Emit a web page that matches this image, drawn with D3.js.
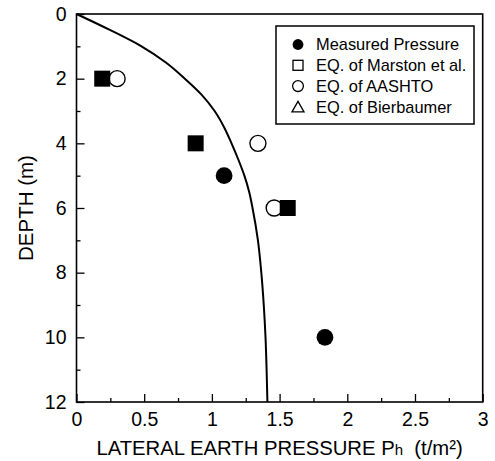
<!DOCTYPE html>
<html>
<head>
<meta charset="utf-8">
<script src="https://cdn.jsdelivr.net/npm/d3@7"></script>
<style>
  html, body { margin: 0; padding: 0; background: #fff; }
  svg { display: block; }
  text { font-family: "Liberation Sans", Arial, Helvetica, sans-serif; fill: #000; }
</style>
</head>
<body>
<svg id="chart" width="495" height="461"></svg>
<script>
// ---- data ----
const measuredDepth = [5, 10];
const measuredPressure = [1.09, 1.835];

const marstonDepth = [2, 4, 6];
const marstonPressure = [0.19, 0.88, 1.56];

const aashtoDepth = [2, 4, 6];
const aashtoPressure = [0.30, 1.34, 1.46];

// Bierbaumer curve
const bierbaumerDepth    = [0, 0.5, 1, 1.5, 2, 2.5, 3, 3.5, 4, 4.5, 5, 5.5, 6, 7, 8, 9, 10, 11, 12];
const bierbaumerPressure = [0, 0.25, 0.48, 0.66, 0.80, 0.925, 1.02, 1.09, 1.145, 1.195, 1.24, 1.275, 1.30, 1.34, 1.365, 1.383, 1.396, 1.404, 1.41];

const xMajorTicks = [0, 0.5, 1, 1.5, 2, 2.5, 3];
const xMinorTicks = [0.25, 0.75, 1.25, 1.75, 2.25, 2.75];
const yMajorTicks = [0, 2, 4, 6, 8, 10, 12];
const yMinorTicks = [1, 3, 5, 7, 9, 11];

const legendLabels = ["Measured Pressure", "EQ. of Marston et al.", "EQ. of AASHTO", "EQ. of Bierbaumer"];
const legendSymbols = ["filledCircle", "openSquare", "openCircle", "openTriangle"];

const xTitle = "LATERAL EARTH PRESSURE ";
const yTitle = "DEPTH (m)";

// ---- layout ----
const svg = d3.select("#chart");
const pLeft = 76.5, pRight = 482.7, pTop = 14, pBottom = 402;
const x = d3.scaleLinear().domain([0, 3]).range([pLeft, pRight]);
const y = d3.scaleLinear().domain([0, 12]).range([pTop, pBottom]);
const fontSize = 19.5;

// axes (ticks pointing inward)
const xAxisMajor = d3.axisBottom(x).tickValues(xMajorTicks).tickSize(-8).tickPadding(10)
  .tickFormat(d => d3.format("")(d));
const xAxisMinor = d3.axisBottom(x).tickValues(xMinorTicks).tickSize(-4).tickFormat("");
const yAxisMajor = d3.axisLeft(y).tickValues(yMajorTicks).tickSize(-8).tickPadding(10)
  .tickFormat(d => d3.format("")(d));
const yAxisMinor = d3.axisLeft(y).tickValues(yMinorTicks).tickSize(-4).tickFormat("");

function styleAxis(g) {
  g.select(".domain").remove();
  g.selectAll(".tick line").attr("stroke", "#000").attr("stroke-width", 1.3);
  g.selectAll(".tick text").style("font-size", fontSize + "px")
    .style("font-family", '"Liberation Sans", Arial, sans-serif').attr("fill", "#000");
}

svg.append("g").attr("transform", `translate(0,${pBottom})`).call(xAxisMajor).call(styleAxis);
svg.append("g").attr("transform", `translate(0,${pBottom})`).call(xAxisMinor).call(styleAxis);
svg.append("g").attr("transform", `translate(${pLeft},0)`).call(yAxisMajor).call(styleAxis);
svg.append("g").attr("transform", `translate(${pLeft},0)`).call(yAxisMinor).call(styleAxis);

// frame
svg.append("rect")
  .attr("x", pLeft).attr("y", pTop)
  .attr("width", pRight - pLeft).attr("height", pBottom - pTop)
  .attr("fill", "none").attr("stroke", "#000").attr("stroke-width", 1.6);

// Bierbaumer curve
const curvePts = bierbaumerDepth.map((d, i) => [bierbaumerPressure[i], d]);
svg.append("path")
  .datum(curvePts)
  .attr("d", d3.line().x(d => x(d[0])).y(d => y(d[1])).curve(d3.curveMonotoneY))
  .attr("fill", "none").attr("stroke", "#000").attr("stroke-width", 2);

// AASHTO open circles
svg.append("g").selectAll("circle")
  .data(aashtoDepth.map((d, i) => [aashtoPressure[i], d]))
  .join("circle")
  .attr("cx", d => x(d[0])).attr("cy", d => y(d[1])).attr("r", 8)
  .attr("fill", "#fff").attr("stroke", "#000").attr("stroke-width", 1.4);

// Marston squares (drawn filled, as in the figure)
const sq = 16;
svg.append("g").selectAll("rect")
  .data(marstonDepth.map((d, i) => [marstonPressure[i], d]))
  .join("rect")
  .attr("x", d => x(d[0]) - sq / 2).attr("y", d => y(d[1]) - sq / 2)
  .attr("width", sq).attr("height", sq)
  .attr("fill", "#000");

// Measured filled circles
svg.append("g").selectAll("circle")
  .data(measuredDepth.map((d, i) => [measuredPressure[i], d]))
  .join("circle")
  .attr("cx", d => x(d[0])).attr("cy", d => y(d[1])).attr("r", 8.4)
  .attr("fill", "#000");

// legend
const lg = svg.append("g");
lg.append("rect").attr("x", 276).attr("y", 26).attr("width", 198).attr("height", 98)
  .attr("fill", "#fff").attr("stroke", "#000").attr("stroke-width", 1.5);
const rowY = i => 44.5 + i * 20.8;
const mx = 298;
legendLabels.forEach((lab, i) => {
  const cy = rowY(i);
  const s = legendSymbols[i];
  if (s === "filledCircle") {
    lg.append("circle").attr("cx", mx).attr("cy", cy).attr("r", 5.4).attr("fill", "#000");
  } else if (s === "openSquare") {
    lg.append("rect").attr("x", mx - 5).attr("y", cy - 5).attr("width", 10).attr("height", 10)
      .attr("fill", "none").attr("stroke", "#000").attr("stroke-width", 1.3);
  } else if (s === "openCircle") {
    lg.append("circle").attr("cx", mx).attr("cy", cy).attr("r", 5.4)
      .attr("fill", "none").attr("stroke", "#000").attr("stroke-width", 1.3);
  } else {
    lg.append("path").attr("d", `M${mx - 6},${cy + 5}L${mx},${cy - 5.5}L${mx + 6},${cy + 5}Z`)
      .attr("fill", "none").attr("stroke", "#000").attr("stroke-width", 1.3);
  }
  lg.append("text").attr("x", 316).attr("y", cy).attr("dy", "0.36em")
    .style("font-size", "16.4px").text(lab);
});

// axis titles
const xt = svg.append("text")
  .attr("x", (pLeft + pRight) / 2).attr("y", 455)
  .attr("text-anchor", "middle")
  .style("font-size", "20.3px")
  .style("white-space", "pre");
xt.append("tspan").text(xTitle);
xt.append("tspan").text("P");
xt.append("tspan").style("font-size", "15px").text("h");
xt.append("tspan").text("  (t/m²)");

svg.append("text")
  .attr("transform", `translate(33,${(pTop + pBottom) / 2}) rotate(-90)`)
  .attr("text-anchor", "middle")
  .style("font-size", "20.5px")
  .text(yTitle);
</script>
</body>
</html>
